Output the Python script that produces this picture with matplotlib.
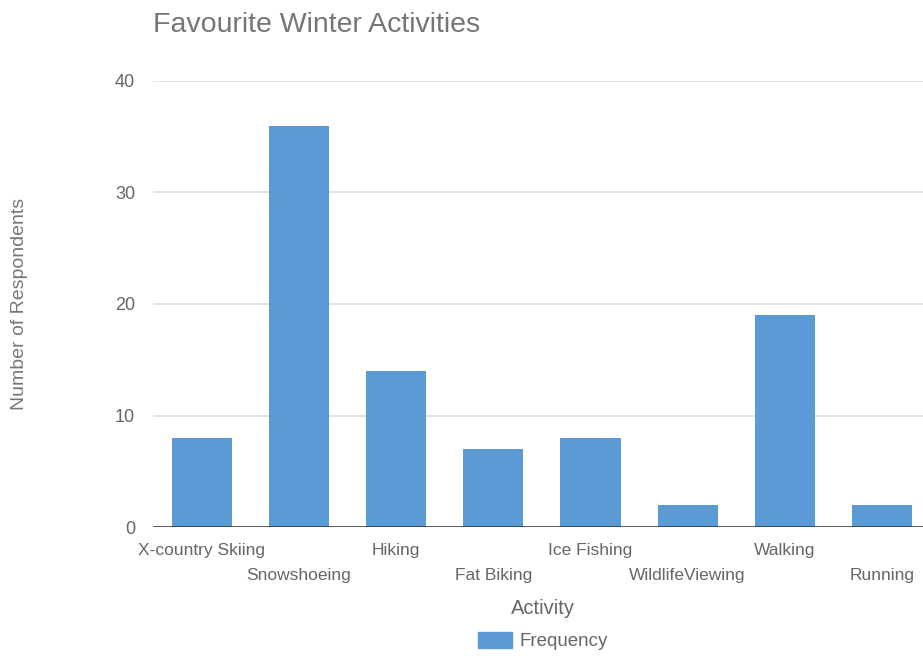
import numpy as np
import matplotlib.pyplot as plt
from matplotlib.patches import Patch

# survey results
activities = ["X-country Skiing", "Snowshoeing", "Hiking", "Fat Biking",
              "Ice Fishing", "WildlifeViewing", "Walking", "Running"]
frequency = [8, 36, 14, 7, 8, 2, 19, 2]
y_ticks = [0, 10, 20, 30, 40]

plt.rcParams['font.family'] = ['Liberation Sans', 'DejaVu Sans']

fig = plt.figure(figsize=(9.23, 6.56), dpi=100)
ax = fig.add_axes([0.1658, 0.1966, 0.8425, 0.68])

x = np.arange(len(activities))
bar_color = "#5a9bd6"
ax.bar(x, frequency, width=0.62, color=bar_color, zorder=3)

ax.set_xlim(-0.5, len(activities) - 0.5)
ax.set_ylim(0, 40)
ax.set_yticks(y_ticks)
ax.set_yticklabels([str(v) for v in y_ticks], fontsize=13, color="#666666")
ax.tick_params(axis='y', length=0, pad=13)
ax.grid(axis='y', color="#dddddd", linewidth=1.2, zorder=0)
ax.axhline(0, color="#333333", linewidth=1.8, zorder=4)

for s in ax.spines.values():
    s.set_visible(False)

# category labels staggered on two rows
ax.set_xticks(x)
ax.set_xticklabels([])
ax.tick_params(axis='x', length=0)
for i, name in enumerate(activities):
    off = -23 if i % 2 == 0 else -48
    ax.annotate(name, (i, 0), xytext=(0, off), textcoords='offset pixels',
                ha='center', va='center', fontsize=12.5, color="#666666",
                annotation_clip=False)

fig.text(153 / 923, 1 - 25 / 656, "Favourite Winter Activities", fontsize=20.5,
         color="#757575", ha='left', va='center')
fig.text(543 / 923, 1 - 608 / 656, "Activity", fontsize=14.5, color="#666666",
         ha='center', va='center')
fig.text(20 / 923, 1 - 304 / 656, "Number of Respondents", fontsize=14,
         color="#777777", rotation=90, ha='center', va='center')

fig.legend(handles=[Patch(color=bar_color, label="Frequency")],
           loc='center', bbox_to_anchor=(543 / 923, 1 - 641 / 656),
           frameon=False, fontsize=13.5, handlelength=1.8, handleheight=1.0,
           handletextpad=0.4, labelcolor="#666666")

fig.savefig("out.png", dpi=100)
